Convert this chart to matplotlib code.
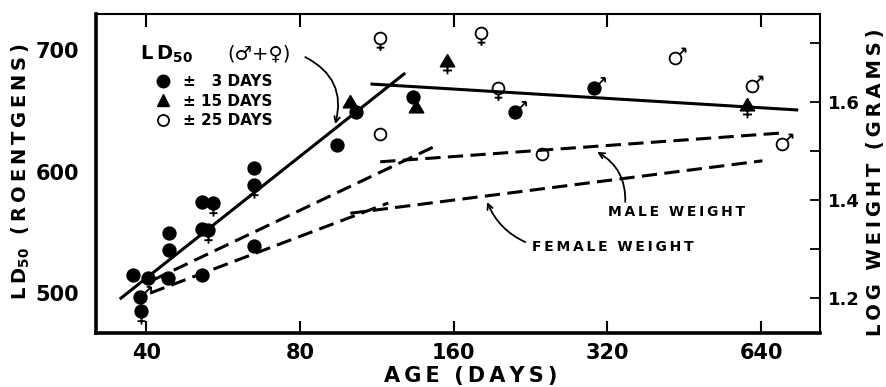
import numpy as np
import matplotlib
matplotlib.use('Agg')
import matplotlib.pyplot as plt
from matplotlib.path import Path
from matplotlib.lines import Line2D
from matplotlib.ticker import NullLocator, FixedLocator, FixedFormatter

plt.rcParams['font.family'] = ['DejaVu Sans']
plt.rcParams['font.weight'] = 'bold'
plt.rcParams['axes.labelweight'] = 'bold'
plt.rcParams['mathtext.default'] = 'bf'

# LD50 points, +/- 3 days (filled circles)
age_3 = [37.7, 40.4, 38.9, 39.1, 44.4, 44.4, 44.2, 51.5, 54.0, 51.5, 52.9, 51.5,
         65.1, 65.1, 65.1, 94.5, 103.2, 133.4, 211, 302]
ld_3 = [515, 512, 497, 485, 549, 535, 512, 575, 574, 553, 552, 515,
        603, 589, 539, 622, 649, 661, 649, 669]
sex_3 = ['', '', 'm', 'f', '', '', '', '', 'f', '', 'f', '',
         '', 'f', '', '', '', '', 'm', 'm']

# +/- 15 days (triangles)
age_15 = [100.4, 135.3, 155.4, 601]
ld_15 = [656, 652, 690, 654]
sex_15 = ['', '', 'f', 'f']

# +/- 25 days (open circles)
age_25 = [115, 114.9, 181, 195.7, 435, 615, 704, 238.6]
ld_25 = [631, 710, 714, 669, 693, 670, 623, 614]
sex_25 = ['', 'f', 'f', 'f', 'm', 'm', 'm', '']

# fitted LD50 lines
fit_young_age = [35.5, 128.6]
fit_young_ld = [495, 681]
fit_old_age = [110, 757]
fit_old_ld = [672, 650.6]

# log weight lines (right axis)
male_young_age = [41.3, 145.9]
male_young_w = [1.237, 1.508]
male_old_age = [114.9, 707]
male_old_w = [1.478, 1.537]
female_young_age = [40.7, 119.2]
female_young_w = [1.210, 1.394]
female_old_age = [100.4, 644]
female_old_w = [1.373, 1.480]


def track(s):
    return '\u2009'.join(s)


def sym_path(shape, sex):
    # circle or triangle, with a sex sign drawn onto it
    if shape == 'o':
        base = Path.unit_circle()
        bottom = -1.0
    else:
        base = Path([(0, 1.1), (-1.0, -0.6), (1.0, -0.6), (0, 1.1)],
                    [Path.MOVETO, Path.LINETO, Path.LINETO, Path.CLOSEPOLY])
        bottom = -0.6
    parts = [base]
    if sex == 'f':
        parts.append(Path([(0, bottom), (0, bottom - 1.1)]))
        parts.append(Path([(-0.65, bottom - 0.55), (0.65, bottom - 0.55)]))
    elif sex == 'm':
        parts.append(Path([(0.71, 0.71), (1.7, 1.7)]))
        parts.append(Path([(1.0, 1.7), (1.7, 1.7)]))
        parts.append(Path([(1.7, 1.7), (1.7, 1.0)]))
    p = Path.make_compound_path(*parts)
    return p, np.abs(p.vertices).max()


def draw_group(ax, ages, vals, sexes, shape, filled, base_ms):
    ages = np.array(ages)
    vals = np.array(vals)
    sexes = np.array(sexes)
    for s in ['', 'm', 'f']:
        sel = sexes == s
        if not sel.any():
            continue
        p, scale = sym_path(shape, s)
        ax.plot(ages[sel], vals[sel], ls='none', marker=p, ms=base_ms * scale,
                mfc='black' if filled else 'none', mec='black', mew=1.3, zorder=4)


fig = plt.figure(figsize=(8.86, 3.87), dpi=100)
ax = fig.add_axes([0.1084, 0.1395, 0.8171, 0.8243])
ax2 = ax.twinx()

ax.set_xscale('log', base=2)
ax.set_xlim(31.9, 835)
ax.set_ylim(467.1, 729.6)
ax2.set_ylim(1.1286, 1.7796)

ax.plot(fit_young_age, fit_young_ld, color='black', lw=2.2, solid_capstyle='butt')
ax.plot(fit_old_age, fit_old_ld, color='black', lw=2.2, solid_capstyle='butt')

dash = (0, (5.0, 2.4))
for a, w in [(male_young_age, male_young_w), (male_old_age, male_old_w),
             (female_young_age, female_young_w), (female_old_age, female_old_w)]:
    ax2.plot(a, w, color='black', lw=2.2, ls=dash)

draw_group(ax, age_3, ld_3, sex_3, 'o', True, 9)
draw_group(ax, age_15, ld_15, sex_15, '^', True, 10)
draw_group(ax, age_25, ld_25, sex_25, 'o', False, 8.5)

# axes and ticks
ax.set_xticks([40, 80, 160, 320, 640])
ax.set_xticklabels(['40', '80', '160', '320', '640'])
ax.xaxis.set_minor_locator(NullLocator())
ax.tick_params(axis='x', direction='in', top=True, length=9, width=1.5,
               labelsize=15, pad=7)
ax.set_yticks([500, 600, 700])
ax.tick_params(axis='y', length=0, labelsize=15, pad=12)

ax2.yaxis.set_major_locator(FixedLocator([1.2, 1.3, 1.4, 1.5, 1.6, 1.72]))
ax2.yaxis.set_major_formatter(FixedFormatter(['1.2', '', '1.4', '', '1.6', '']))
ax2.tick_params(axis='y', direction='in', length=7, width=1.3, labelsize=13, pad=6)

for side in ['left', 'bottom']:
    ax.spines[side].set_linewidth(2.6)
for side in ['top', 'right']:
    ax.spines[side].set_linewidth(1.5)
for sp in ax2.spines.values():
    sp.set_visible(False)

ax.set_xlabel(track('AGE') + '  ' + track('(DAYS)'), fontsize=15)
ax.xaxis.set_label_coords(0.517, -0.103)
ax.set_ylabel('L\u2009D$_{50}$  ' + track('(ROENTGENS)'), fontsize=14)
ax.yaxis.set_label_coords(-0.088, 0.505)
ax2.set_ylabel(track('LOG') + '  ' + track('WEIGHT') + '  ' + track('(GRAMS)'), fontsize=14)
ax2.yaxis.set_label_coords(1.063, 0.473)

# legend
ax.text(0.0608, 0.856, 'L\u2009D$_{50}$', transform=ax.transAxes,
        fontsize=14, va='baseline', ha='left')
ax.text(0.181, 0.856, '(\u2642+\u2640)', transform=ax.transAxes,
        fontsize=14, va='baseline', ha='left', fontweight='normal')
handles = [Line2D([], [], ls='none', marker='o', ms=9, mfc='black', mec='black'),
           Line2D([], [], ls='none', marker='^', ms=9, mfc='black', mec='black'),
           Line2D([], [], ls='none', marker='o', ms=8, mfc='none', mec='black', mew=1.3)]
labels = ['\u00b1 \u20073 DAYS', '\u00b1 15 DAYS', '\u00b1 25 DAYS']
leg = ax.legend(handles, labels, loc='upper left', bbox_to_anchor=(0.0566, 0.821),
                frameon=False, fontsize=11, handlelength=3.0, borderaxespad=0,
                handletextpad=-0.2, labelspacing=0.3, borderpad=0.2)

# annotations
arrow = dict(arrowstyle='->', lw=1.3, color='black', shrinkA=0, shrinkB=0)
ax.annotate('', xy=(93.8, 639), xytext=(0.289, 0.865), textcoords='axes fraction',
            arrowprops=dict(arrow, connectionstyle='arc3,rad=-0.4'))
ax2.annotate('', xy=(305.7, 1.498), xytext=(0.731, 0.411), textcoords='axes fraction',
             arrowprops=dict(arrow, connectionstyle='arc3,rad=0.3'))
ax2.annotate('', xy=(186.2, 1.396), xytext=(0.593, 0.285), textcoords='axes fraction',
             arrowprops=dict(arrow, connectionstyle='arc3,rad=-0.2'))
ax.text(0.707, 0.379, track('MALE') + '  ' + track('WEIGHT'), transform=ax.transAxes,
        fontsize=10, va='center', ha='left')
ax.text(0.602, 0.270, track('FEMALE') + '  ' + track('WEIGHT'), transform=ax.transAxes,
        fontsize=10, va='center', ha='left')

fig.savefig('out.png', dpi=100)
